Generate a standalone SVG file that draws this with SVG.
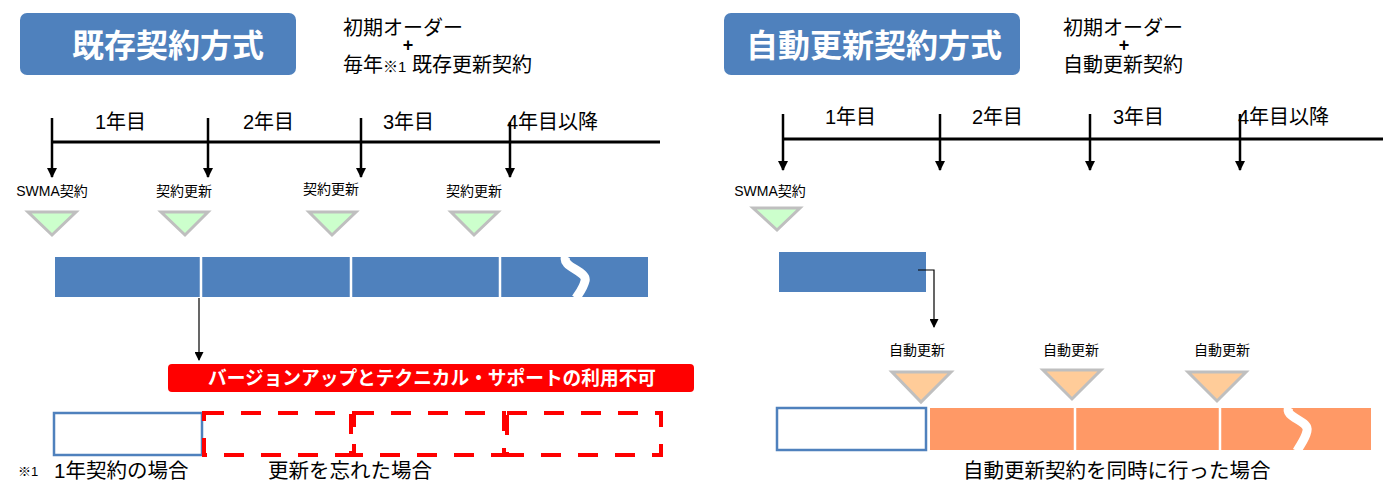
<svg xmlns="http://www.w3.org/2000/svg" width="1383" height="482" viewBox="0 0 1383 482">
<defs>
<marker id="ah" viewBox="0 0 10 10" refX="9" refY="5" markerWidth="10" markerHeight="10" markerUnits="userSpaceOnUse" orient="auto"><path d="M0,0 L10,5 L0,10 z" fill="#000"/></marker>
<marker id="ahs" viewBox="0 0 10 10" refX="9" refY="5" markerWidth="10" markerHeight="9" markerUnits="userSpaceOnUse" orient="auto"><path d="M0,0 L10,5 L0,10 z" fill="#000"/></marker>
</defs>
<style>
text{font-family:"Liberation Sans","Noto Sans CJK JP",sans-serif;fill:#000}
.title{font-size:32px;font-weight:bold;fill:#fff}
.hdr{font-size:20px}
.plus{font-size:18px;font-weight:bold}
.yr{font-size:20px}
.lbl{font-size:14px}
.foot{font-size:20.5px}
.tl{stroke:#000;stroke-width:3;fill:none}
.tick{stroke:#000;stroke-width:2.5;fill:none}
.tri-g{fill:#ccffcc;stroke:#bfbfbf;stroke-width:3}
.tri-o{fill:#ffcc99;stroke:#bfbfbf;stroke-width:3}
.blue{fill:#4f81bd}
.orange{fill:#ff9966}
.div{stroke:#fff;stroke-width:2.5}
.brk{stroke:#fff;stroke-width:9;fill:none}
.empty{fill:#fff;stroke:#4f81bd;stroke-width:2.5}
.dash{fill:none;stroke:#ff0000;stroke-width:4;stroke-dasharray:20 17}
</style>

<g id="left-title"><rect x="20" y="13" width="276" height="62" rx="7" class="blue"/><text class="title" x="168" y="57" text-anchor="middle">既存契約方式</text></g>
<g id="left-header">
<text class="hdr" x="343" y="35">初期オーダー</text>
<text class="plus" x="408" y="51" text-anchor="middle">+</text>
<text class="hdr" x="343" y="72">毎年<tspan font-size="15">※1</tspan> 既存更新契約</text>
</g>

<g id="left-timeline">
<line class="tl" x1="52" y1="142" x2="660" y2="142"/>
<text class="yr" x="95" y="129">1年目</text>
<text class="yr" x="243" y="129">2年目</text>
<text class="yr" x="383" y="129">3年目</text>
<text class="yr" x="507" y="129">4年目以降</text>
</g>

<g id="left-labels">
<text class="lbl" x="52" y="196" text-anchor="middle">SWMA契約</text>
<text class="lbl" x="184" y="196" text-anchor="middle">契約更新</text>
<text class="lbl" x="331" y="194" text-anchor="middle">契約更新</text>
<text class="lbl" x="474" y="196" text-anchor="middle">契約更新</text>
<polygon class="tri-g" points="28,212 76,212 52,235"/>
<polygon class="tri-g" points="161,212 208,212 185,235"/>
<polygon class="tri-g" points="309,212 356,212 332,235"/>
<polygon class="tri-g" points="451,212 498,212 474,235"/>
</g>

<g id="left-bar">
<rect x="55" y="257" width="593" height="40" class="blue"/>
<line class="div" x1="201" y1="257" x2="201" y2="297"/>
<line class="div" x1="351" y1="257" x2="351" y2="297"/>
<line class="div" x1="500" y1="257" x2="500" y2="297"/>
<path class="brk" d="M566 256 C560 267, 588 271, 585 281 C583 289, 579 293, 576 298"/>
</g>

<g id="left-banner"><rect x="168" y="364" width="526" height="28" rx="4" fill="#ff0000"/><text x="432" y="385" text-anchor="middle" font-size="19" font-weight="bold" style="fill:#fff" textLength="448" lengthAdjust="spacingAndGlyphs">バージョンアップとテクニカル・サポートの利用不可</text></g>

<g id="left-bottom">
<rect class="empty" x="54" y="413" width="148" height="42"/>
<rect class="dash" x="204" y="413" width="147" height="42"/>
<rect class="dash" x="354" y="413" width="150" height="42"/>
<rect class="dash" x="507" y="413" width="154" height="42"/>
<text x="18" y="476" font-size="13">※1</text>
<text class="foot" x="54" y="478">1年契約の場合</text>
<text class="foot" x="268" y="478">更新を忘れた場合</text>
</g>

<g id="right-title"><rect x="724" y="13" width="296" height="62" rx="7" class="blue"/><text class="title" x="874" y="57" text-anchor="middle">自動更新契約方式</text></g>
<g id="right-header">
<text class="hdr" x="1063" y="35">初期オーダー</text>
<text class="plus" x="1124" y="51" text-anchor="middle">+</text>
<text class="hdr" x="1063" y="72">自動更新契約</text>
</g>

<g id="right-timeline">
<line class="tl" x1="783" y1="139" x2="1383" y2="139"/>
<text class="yr" x="825" y="124">1年目</text>
<text class="yr" x="972" y="124">2年目</text>
<text class="yr" x="1113" y="124">3年目</text>
<text class="yr" x="1238" y="124">4年目以降</text>
</g>

<g id="right-labels">
<text class="lbl" x="770" y="196" text-anchor="middle">SWMA契約</text>
<polygon class="tri-g" points="753,208 800,208 777,230"/>
<text class="lbl" x="917" y="355" text-anchor="middle">自動更新</text>
<text class="lbl" x="1071" y="355" text-anchor="middle">自動更新</text>
<text class="lbl" x="1222" y="355" text-anchor="middle">自動更新</text>
<polygon class="tri-o" points="892,372 951,372 921,402"/>
<polygon class="tri-o" points="1043,370 1101,370 1072,399"/>
<polygon class="tri-o" points="1188,372 1246,372 1217,401"/>
</g>

<g id="right-first"><rect x="779" y="252" width="147" height="40" class="blue"/></g>

<g id="right-bottom">
<rect class="empty" x="777" y="408" width="149" height="42"/>
<rect x="930" y="408" width="441" height="42" class="orange"/>
<line class="div" x1="1075" y1="408" x2="1075" y2="450"/>
<line class="div" x1="1220" y1="408" x2="1220" y2="450"/>
<path class="brk" d="M1289 407 C1283 418, 1310 420, 1307 431 C1305 440, 1300 445, 1297 451"/>
<text class="foot" x="963" y="478">自動更新契約を同時に行った場合</text>
</g>

<g id="connectors">
<line class="tick" x1="52" y1="118" x2="52" y2="177" marker-end="url(#ah)"/>
<line class="tick" x1="208" y1="118" x2="208" y2="177" marker-end="url(#ah)"/>
<line class="tick" x1="361" y1="118" x2="361" y2="177" marker-end="url(#ah)"/>
<line class="tick" x1="510" y1="122" x2="510" y2="177" marker-end="url(#ah)"/>
<line stroke="#000" stroke-width="1.2" x1="199" y1="298" x2="199" y2="360" marker-end="url(#ahs)"/>
<line class="tick" x1="783" y1="114" x2="783" y2="170" marker-end="url(#ah)"/>
<line class="tick" x1="940" y1="114" x2="940" y2="170" marker-end="url(#ah)"/>
<line class="tick" x1="1090" y1="114" x2="1090" y2="170" marker-end="url(#ah)"/>
<line class="tick" x1="1240" y1="114" x2="1240" y2="170" marker-end="url(#ah)"/>
<path fill="none" stroke="#000" stroke-width="1.2" d="M918 270 L934 270 L934 327" marker-end="url(#ahs)"/>
</g>
</svg>
